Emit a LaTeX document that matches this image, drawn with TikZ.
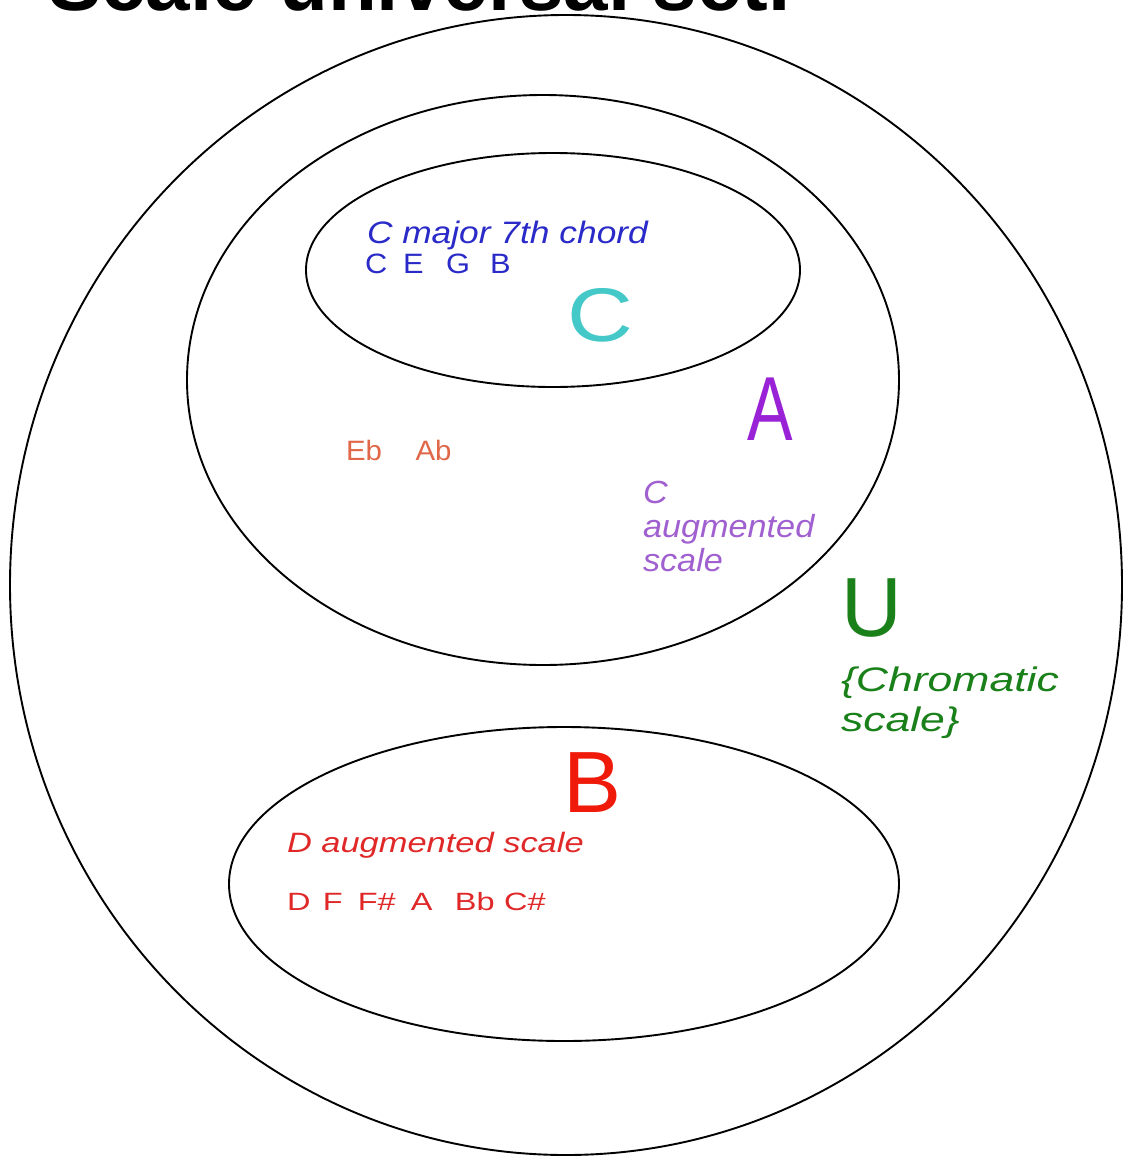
\documentclass[tikz,border=0pt]{standalone}
\usepackage{fontspec}
\usepackage{graphicx}
\setmainfont{Liberation Sans}
\definecolor{cblue}{HTML}{2A2AC8}
\definecolor{ccyan}{HTML}{44C8C8}
\definecolor{apurple}{HTML}{9A22D6}
\definecolor{lpurple}{HTML}{A060D0}
\definecolor{corange}{HTML}{E06848}
\definecolor{ugreen}{HTML}{1A801A}
\definecolor{bred}{HTML}{F01A0A}
\definecolor{tred}{HTML}{E02828}
\newcommand{\txt}[3]{\fontsize{#1}{#1}\selectfont\scalebox{#2}[1]{#3}}
\tikzset{
  setline/.style={draw=black, line width=1.9pt},
  lbl/.style={inner sep=0pt, outer sep=0pt, anchor=base west}
}
\begin{document}
\begin{tikzpicture}[x=1pt,y=-1pt]
\useasboundingbox[fill=white] (0,0) rectangle (1126,1156);
% title (cut off at the top edge)
\node[lbl] (title) at (48,11) {\txt{80}{1}{\bfseries Scale universal set.}};
% sets
\draw[setline] (566,585) ellipse (556 and 570);
\draw[setline] (543,380) ellipse (356 and 285);
\draw[setline] (553,270) ellipse (247 and 117);
\draw[setline] (564,884) ellipse (335 and 157);
% set C
\node[lbl, text=cblue] (cmaj) at (367,243) {\txt{31}{1.14}{\itshape C major 7th chord}};
\node[lbl, text=cblue] (cegb) at (365,273) {\txt{28}{1.1}{C\hspace{14.4pt}E\hspace{20.5pt}G\hspace{18.2pt}B}};
\node[lbl, text=ccyan] (labc) at (567,341) {\txt{76}{1.2}{C}};
% set A
\node[lbl, text=apurple] (laba) at (747,440) {\txt{91}{0.75}{A}};
\node[lbl, text=corange] (ebab) at (346,460) {\txt{28}{1.05}{Eb\hspace{32pt}Ab}};
\node[lbl, text=lpurple] (caug1) at (643,503) {\txt{32}{1.07}{\itshape C}};
\node[lbl, text=lpurple] (caug2) at (643,537) {\txt{32}{1.07}{\itshape augmented}};
\node[lbl, text=lpurple] (caug3) at (643,571) {\txt{32}{1.07}{\itshape scale}};
% universal set
\node[lbl, text=ugreen] (labu) at (841,636) {\txt{84}{1.0}{U}};
\node[lbl, text=ugreen] (chr1) at (841,691) {\txt{34}{1.31}{\itshape\{Chromatic}};
\node[lbl, text=ugreen] (chr2) at (841,731) {\txt{34}{1.31}{\itshape scale\}}};
% set B
\node[lbl, text=bred] (labb) at (563,812) {\txt{87}{1}{B}};
\node[lbl, text=tred] (daug) at (287,852) {\txt{28}{1.23}{\itshape D augmented scale}};
\node[lbl, text=tred] (dnotes) at (287,910) {\txt{25}{1.3}{D\hspace{9.6pt}F\hspace{11.6pt}F\#\hspace{11.6pt}A\hspace{17.2pt}Bb\hspace{7.2pt}C\#}};
\end{tikzpicture}
\end{document}
